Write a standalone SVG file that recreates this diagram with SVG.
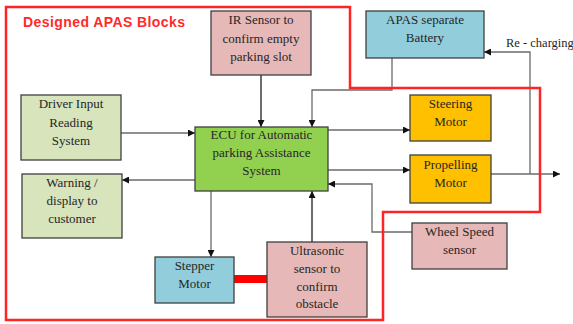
<svg xmlns="http://www.w3.org/2000/svg" width="573" height="324" viewBox="0 0 573 324">
<style>
.box{stroke:#3f3f3f;stroke-width:1.3}
.pink{fill:#e6b8b7}.blue{fill:#92cddc}.lgreen{fill:#d7e4bc}.green{fill:#92d050}.orange{fill:#ffc000}
.t{font-family:"Liberation Serif","Times New Roman",serif;font-size:13px;fill:#262626;text-anchor:middle}
.c{fill:none;stroke:#6b6b6b;stroke-width:1.3}
.k{stroke:#1e1e1e}
.title{font-family:"Liberation Sans",Arial,sans-serif;font-weight:bold;font-size:14px;fill:#ff2a2a}
</style>
<defs>
<marker id="a" viewBox="0 0 10 10" refX="10" refY="5" markerWidth="7" markerHeight="7" markerUnits="userSpaceOnUse" orient="auto"><path d="M0,0L10,5L0,10z" fill="#111"/></marker>
</defs>
<rect width="573" height="324" fill="#fff"/>

<g id="connectors">
<path class="c k" d="M261,75V127" marker-end="url(#a)"/>
<path class="c" d="M392,58V90H312V127" marker-end="url(#a)"/>
<path class="c" d="M121,133H195" marker-end="url(#a)"/>
<path class="c" d="M195,180H122" marker-end="url(#a)"/>
<path class="c" d="M328,130H410" marker-end="url(#a)"/>
<path class="c" d="M328,170H410" marker-end="url(#a)"/>
<path class="c" d="M412,232H372V184H328" marker-end="url(#a)"/>
<path class="c k" d="M312,242V191" marker-end="url(#a)"/>
<path class="c" d="M211,191V257" marker-end="url(#a)"/>
<path class="c" d="M491,174H560" marker-end="url(#a)"/>
<path class="c" d="M530,174V52H484" marker-end="url(#a)"/>
<rect x="234" y="275" width="33" height="8" fill="#ff0000"/>
</g>

<path d="M6,7H350V88H540V212H383V320H6Z" fill="none" stroke="#ff2424" stroke-width="2.5" stroke-linejoin="miter"/>
<text class="title" x="23" y="27" textLength="162">Designed APAS Blocks</text>
<text class="t" x="506" y="47" style="text-anchor:start;font-size:12.5px">Re - charging</text>

<g id="ir"><rect class="box pink" x="211" y="11" width="100" height="64"/>
<text class="t" x="261" y="24">IR Sensor to</text><text class="t" x="261" y="43">confirm empty</text><text class="t" x="261" y="61">parking slot</text></g>

<g id="battery"><rect class="box blue" x="366" y="11" width="118" height="47"/>
<text class="t" x="425" y="24">APAS separate</text><text class="t" x="425" y="42">Battery</text></g>

<g id="driver"><rect class="box lgreen" x="21" y="95" width="100" height="65"/>
<text class="t" x="71" y="108">Driver Input</text><text class="t" x="71" y="127">Reading</text><text class="t" x="71" y="145">System</text></g>

<g id="warning"><rect class="box lgreen" x="22" y="174" width="100" height="64"/>
<text class="t" x="72" y="187">Warning /</text><text class="t" x="72" y="205">display to</text><text class="t" x="72" y="223">customer</text></g>

<g id="ecu"><rect class="box green" x="195" y="127" width="133" height="64"/>
<text class="t" x="261.5" y="139">ECU for Automatic</text><text class="t" x="261.5" y="157">parking Assistance</text><text class="t" x="261.5" y="175">System</text></g>

<g id="steering"><rect class="box orange" x="410" y="95" width="81" height="46"/>
<text class="t" x="450.5" y="108">Steering</text><text class="t" x="450.5" y="126">Motor</text></g>

<g id="propelling"><rect class="box orange" x="410" y="155" width="81" height="48"/>
<text class="t" x="450.5" y="169">Propelling</text><text class="t" x="450.5" y="187">Motor</text></g>

<g id="wheel"><rect class="box pink" x="412" y="223" width="95" height="46"/>
<text class="t" x="459.5" y="236">Wheel Speed</text><text class="t" x="459.5" y="254">sensor</text></g>

<g id="stepper"><rect class="box blue" x="155" y="257" width="79" height="46"/>
<text class="t" x="194.5" y="270">Stepper</text><text class="t" x="194.5" y="288">Motor</text></g>

<g id="ultrasonic"><rect class="box pink" x="267" y="242" width="100" height="75"/>
<text class="t" x="317" y="255">Ultrasonic</text><text class="t" x="317" y="273">sensor to</text><text class="t" x="317" y="291">confirm</text><text class="t" x="317" y="308">obstacle</text></g>
</svg>
